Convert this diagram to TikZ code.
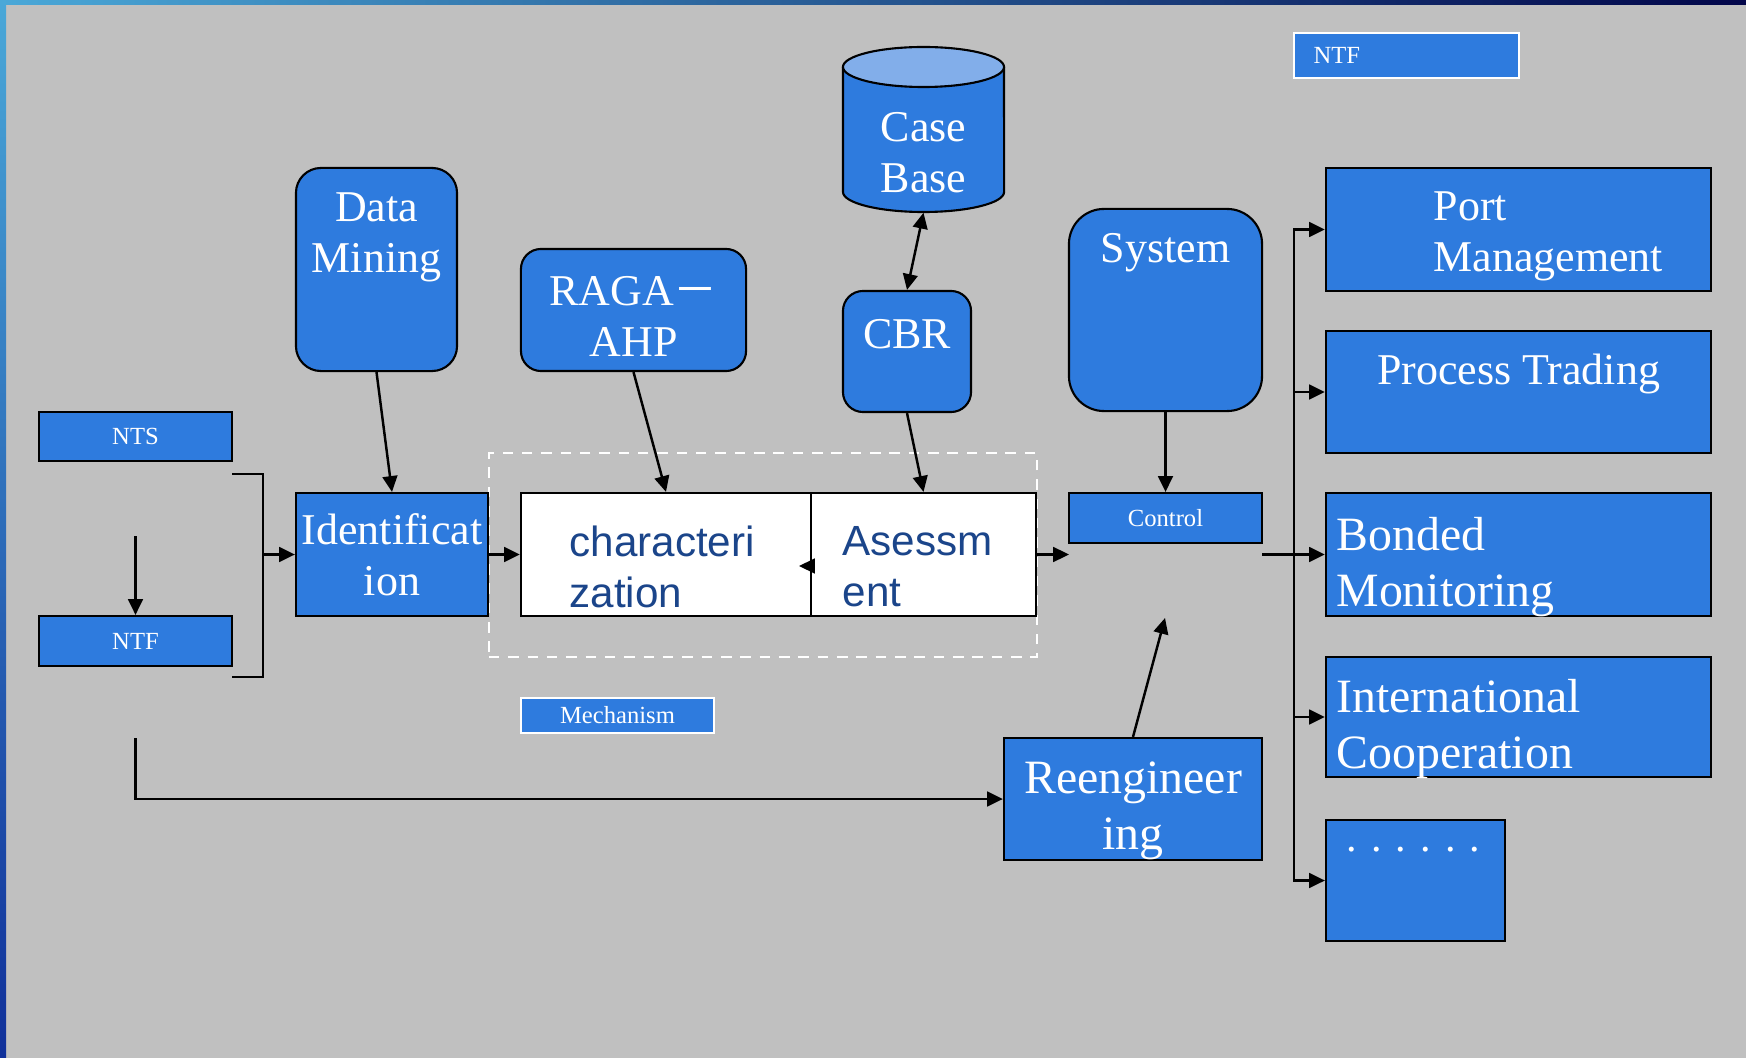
\documentclass[tikz,border=0pt]{standalone}
\usepackage{fontspec}
\setmainfont{Liberation Serif}
\newfontfamily\arialfont{Liberation Sans}
\newfontfamily\cjk{Noto Sans CJK SC}
\usetikzlibrary{positioning,arrows.meta}

\definecolor{boxblue}{HTML}{2E7BDE}
\definecolor{topblue}{HTML}{82AEEA}
\definecolor{slidegray}{HTML}{C0C0C0}
\definecolor{darktext}{HTML}{1B458A}
\definecolor{framel}{HTML}{4AA8D8}
\definecolor{framem}{HTML}{1478C8}
\definecolor{framer}{HTML}{02064A}
\definecolor{sidem}{HTML}{6070B8}
\definecolor{sideb}{HTML}{10309A}

\begin{document}
\begin{tikzpicture}[x=0.01cm, y=-0.01cm, >={Triangle[length=4.5pt,width=4.2pt]},
        bluebox/.style = {draw, line width=0.6pt, fill=boxblue, inner sep=0pt},
        roundbox/.style = {bluebox, rounded corners=0.25cm},
        whitebox/.style = {draw, line width=0.6pt, fill=white, inner sep=0pt},
        smallbox/.style = {bluebox, text=white, font=\fontsize{7}{8}\selectfont},
        tagbox/.style = {smallbox, draw=white},
        dashbox/.style = {draw=white, dashed, line width=0.5pt, dash pattern=on 3pt off 2.5pt, inner sep=0pt},
        boxtext/.style = {text=white, align=center, inner sep=0pt, font=\fontsize{12.5}{14.5}\selectfont},
        bigtext/.style = {text=white, align=left, inner sep=0pt, font=\fontsize{13.6}{15.9}\selectfont},
        sanstext/.style = {text=darktext, align=left, inner sep=0pt, font=\arialfont\fontsize{12}{14.5}\selectfont},
        arr/.style = {line width=0.7pt, ->}]
    \useasboundingbox (0,0) rectangle (1746,1058);

    % slide background
    \fill[slidegray] (0,0) rectangle (1746,1058);
    \shade[left color=framel, middle color=framem, right color=framer] (0,0) rectangle (1746,5);
    \shade[top color=framel, middle color=sidem, bottom color=sideb] (0,0) rectangle (6,1058);

    % inputs
    \node[smallbox, minimum width=1.93cm, minimum height=0.49cm] (nts) at (135.5,436.5) {NTS};
    \node[smallbox, minimum width=1.93cm, minimum height=0.50cm] (ntf) at (135.5,641) {NTF};
    \node[tagbox, minimum width=2.25cm, minimum height=0.45cm] (ntftop) at (1406.5,55.5) {};
    \node[text=white, inner sep=0pt, font=\fontsize{7}{8}\selectfont, anchor=west] (ntftoptext)
        at ([xshift=0.2cm]ntftop.west) {NTF};

    % upper tools
    \node[roundbox, minimum width=1.61cm, minimum height=2.03cm] (dm) at (376.5,269.5) {};
    \node[boxtext, below=0.25cm of dm.north] (dmtext) {Data\\Mining};
    \node[roundbox, rounded corners=0.2cm, minimum width=2.25cm, minimum height=1.22cm] (raga) at (633.5,310) {};
    \node[boxtext, below=0.28cm of raga.north] (ragatext) {RAGA{\cjk －}\\AHP};
    % case base drum
    \draw[line width=0.6pt, fill=boxblue] (843,67) -- (843,192)
        arc[start angle=180, end angle=360, x radius=0.805cm, y radius=0.2cm] -- (1004,67);
    \draw[line width=0.6pt, fill=topblue] (923.5,67) ellipse [x radius=0.805cm, y radius=0.2cm];
    \node[minimum width=1.61cm, minimum height=1.65cm, inner sep=0pt] (casebase) at (923.5,129.5) {};
    \node[boxtext, below=0.65cm of casebase.north] (casetext) {Case\\Base};
    \node[roundbox, rounded corners=0.2cm, minimum width=1.28cm, minimum height=1.21cm] (cbr) at (907,351.5) {};
    \node[boxtext, below=0.29cm of cbr.north] (cbrtext) {CBR};
    \node[roundbox, rounded corners=0.35cm, minimum width=1.93cm, minimum height=2.02cm] (sys) at (1165.5,310) {};
    \node[boxtext, below=0.25cm of sys.north] (systext) {System};

    % mechanism
    \node[dashbox, minimum width=5.48cm, minimum height=2.04cm] (mech) at (763,555) {};
    \node[bluebox, minimum width=1.92cm, minimum height=1.23cm] (ident) at (392,554.5) {};
    \node[boxtext] (identtext) at (ident) {Identificat\\ion};
    \node[whitebox, minimum width=2.90cm, minimum height=1.23cm] (chr) at (666,554.5) {};
    \node[sanstext, anchor=north west] (chrtext) at ([xshift=0.49cm, yshift=-0.33cm]chr.north west) {characteri\\zation};
    \node[whitebox, minimum width=2.25cm, minimum height=1.23cm] (asm) at (923.5,554.5) {};
    \node[sanstext, anchor=north west] (asmtext) at ([xshift=0.32cm, yshift=-0.34cm]asm.north west) {Asessm\\ent};
    \node[tagbox, minimum width=1.93cm, minimum height=0.35cm] (mechtag) at (617.5,715.5) {Mechanism};

    \node[smallbox, minimum width=1.93cm, minimum height=0.50cm] (ctrl) at (1165.5,518) {Control};
    \node[bluebox, minimum width=2.58cm, minimum height=1.22cm] (reeng) at (1133,799) {};
    \node[bigtext, align=center, below=0.24cm of reeng.north] (reengtext) {Reengineer\\ing};

    % application fields
    \node[bluebox, minimum width=3.85cm, minimum height=1.23cm] (port) at (1518.5,229.5) {};
    \node[boxtext, align=left, anchor=north west] (porttext) at ([xshift=1.08cm, yshift=-0.24cm]port.north west) {Port\\Management};
    \node[bluebox, minimum width=3.85cm, minimum height=1.22cm] (proc) at (1518.5,392) {};
    \node[boxtext, below=0.23cm of proc.north] (proctext) {Process Trading};
    \node[bluebox, minimum width=3.85cm, minimum height=1.23cm] (bond) at (1518.5,554.5) {};
    \node[bigtext, anchor=north west] (bondtext) at ([xshift=0.11cm, yshift=-0.25cm]bond.north west) {Bonded\\Monitoring};
    \node[bluebox, minimum width=3.85cm, minimum height=1.20cm] (intl) at (1518.5,717) {};
    \node[bigtext, anchor=north west] (intltext) at ([xshift=0.11cm, yshift=-0.23cm]intl.north west) {International\\Cooperation};
    \node[bluebox, minimum width=1.79cm, minimum height=1.21cm] (dots) at (1415.5,880.5) {};
    \node[boxtext, font=\fontsize{12}{14}\selectfont, anchor=base west] (dotstext) at (1346,851) {. . . . . .};

    % connectors
    \coordinate (brtop) at (232,474);
    \coordinate (brbot) at (232,677);
    \coordinate (brmid) at (263,554.5);
    \draw[line width=0.7pt] (brtop) -| (brmid) |- (brbot);
    \draw[arr] (brmid) -- (ident.west);
    \coordinate (ntsdown) at (135.5,536);
    \draw[arr] (ntsdown) -- (ntf.north);
    \coordinate (lstart) at (135.5,738);
    \draw[arr] (lstart) |- (reeng.west);

    \draw[arr] (dm.south) -- (ident.north);
    \draw[arr] (raga.south) -- (chr.north);
    \draw[arr] (cbr.south) -- (asm.north);
    \draw[line width=0.7pt, <->] (casebase.south) -- (cbr.north);
    \draw[arr] (sys.south) -- (ctrl.north);

    \draw[arr] (ident.east) -- (chr.west);
    \coordinate (backtip) at (799,566);
    \draw[arr] (asm.west |- backtip) -- (backtip);
    \coordinate (ctrlin) at (1069,554.5);
    \draw[arr] (asm.east) -- (ctrlin);

    \coordinate (ctrlout) at (1262,554.5);
    \coordinate (trunk) at (1294,554.5);
    \draw[line width=0.7pt] (ctrlout) -- (trunk);
    \foreach \field in {port,proc,bond,intl,dots}
        \draw[arr] (trunk) |- (\field.west);

    \coordinate (reengtip) at (1165,618);
    \draw[arr] (reeng.north) -- (reengtip);
\end{tikzpicture}
\end{document}
